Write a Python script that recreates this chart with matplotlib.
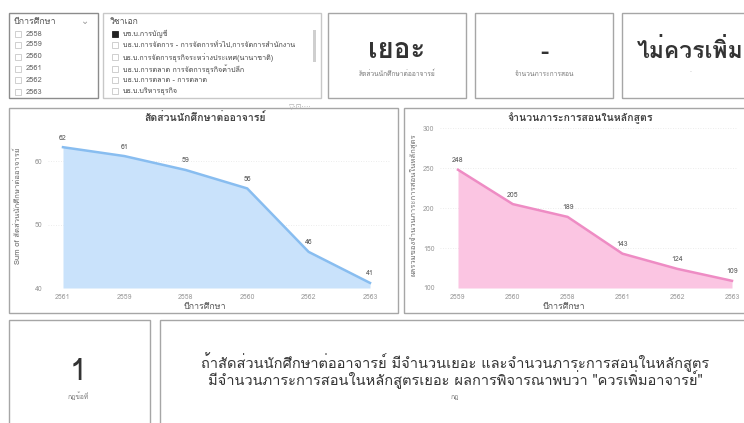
import matplotlib
matplotlib.use("Agg")
import matplotlib.pyplot as plt
from matplotlib import font_manager
from matplotlib.ft2font import FT2Font
from matplotlib.patches import Rectangle

# ---------------- data ----------------
years_slicer = ["2558", "2559", "2560", "2561", "2562", "2563"]
majors = ["บช.บ.การบัญชี",
          "บธ.บ.การจัดการ - การจัดการทั่วไป,การจัดการสำนักงาน",
          "บธ.บ.การจัดการธุรกิจระหว่างประเทศ(นานาชาติ)",
          "บธ.บ.การตลาด การจัดการธุรกิจค้าปลีก",
          "บธ.บ.การตลาด - การตลาด",
          "บธ.บ.บริหารธุรกิจ"]
ratio_years = ["2561", "2559", "2558", "2560", "2562", "2563"]
ratio_values = [62.2, 60.8, 58.6, 55.7, 45.7, 40.8]
ratio_labels = ["62", "61", "59", "56", "46", "41"]
load_years = ["2559", "2560", "2558", "2561", "2562", "2563"]
load_values = [248, 205, 189, 143, 124, 109]
ratio_yticks = [40, 50, 60]
load_yticks = [100, 150, 200, 250, 300]

# ---------------- font with Thai ----------------
thai_font = None
for f in font_manager.fontManager.ttflist:
    try:
        cm = FT2Font(f.fname).get_charmap()
        if 0x0E01 in cm and 0x0E2D in cm:
            thai_font = f.name
            break
    except Exception:
        pass
fams = ([thai_font] if thai_font else []) + ["DejaVu Sans"]
plt.rcParams['font.family'] = fams

W, H = 744, 423
fig = plt.figure(figsize=(W / 100, H / 100), dpi=100)
fig.patch.set_facecolor("white")


def fx(x):
    return x / W


def fy(y):
    return 1 - y / H


def box(x0, y0, x1, y1, ec="#a6a6a6", lw=1.0):
    fig.patches.append(Rectangle((fx(x0), fy(y1)), fx(x1) - fx(x0), fy(y0) - fy(y1),
                                 transform=fig.transFigure, fill=False, ec=ec, lw=lw))


def txt(x, y, s, size=6, color="#555555", ha="left", va="center", **kw):
    fig.text(fx(x), fy(y), s, fontsize=size, color=color, ha=ha, va=va, **kw)


# ---------------- slicer 1 ----------------
box(9, 13, 98, 98, ec="#8c8c8c")
txt(14, 22, "ปีการศึกษา", size=6.4, color="#555555")
txt(85, 21, "⌄", size=7, color="#999999", ha="center", family="DejaVu Sans")
ys = [34, 45, 57, 69, 80, 92]
for yy, lab in zip(ys, years_slicer):
    fig.patches.append(Rectangle((fx(15), fy(yy + 3)), fx(6), 6 / H, transform=fig.transFigure,
                                 fill=False, ec="#c8c8c8", lw=0.6))
    txt(26, yy, lab, size=5.4, color="#666666")

# ---------------- slicer 2 ----------------
box(103, 13, 321, 98, ec="#c8c8c8")
txt(110, 22, "วิชาเอก", size=6.2, color="#555555")
ys2 = [34, 45, 57, 69, 80, 91]
for i, (yy, lab) in enumerate(zip(ys2, majors)):
    fig.patches.append(Rectangle((fx(112), fy(yy + 3)), fx(6), 6 / H, transform=fig.transFigure,
                                 fill=(i == 0), fc="#222222", ec="#222222" if i == 0 else "#c8c8c8", lw=0.6))
    txt(123, yy, lab, size=5.2, color="#444444")
fig.patches.append(Rectangle((fx(313), fy(62)), fx(3), 32 / H, transform=fig.transFigure,
                             fill=True, fc="#cfcfcf", ec="none"))

# ---------------- cards ----------------
box(328, 13, 466, 98)
txt(397, 50, "เยอะ", size=20, color="#333333", ha="center", weight="bold")
txt(397, 74, "สัดส่วนนักศึกษาต่ออาจารย์", size=4.8, color="#777777", ha="center")
box(475, 13, 613, 98)
txt(544, 52, "-", size=18, color="#333333", ha="center", weight="bold")
txt(544, 74, "จำนวนภาระการสอน", size=4.8, color="#777777", ha="center")
box(622, 13, 760, 98)
txt(690, 50, "ไม่ควรเพิ่ม", size=16.5, color="#333333", ha="center", weight="bold")
txt(690, 70, ".", size=5, color="#aaaaaa", ha="center")

# ---------------- chart boxes ----------------
box(9, 108, 398, 313)
box(404, 108, 760, 313)
txt(300, 107, "▽·⊡·⋯", size=5, color="#aaaaaa", ha="center", family="DejaVu Sans")


def area_chart(L, R, T, B, x0px, x5px, ylim, cats, vals, labels, yticks,
               fill, line, title, tx, xlx, ylabel, ylx, yly):
    ax = fig.add_axes([fx(L), fy(B), fx(R) - fx(L), fy(T) - fy(B)])
    a = (x5px - x0px) / 5.0
    ax.set_xlim(-(x0px - L) / a, 5 + (R - x5px) / a)
    ax.set_ylim(*ylim)
    xs = list(range(len(cats)))
    ax.fill_between(xs, vals, ylim[0], color=fill, lw=0)
    ax.plot(xs, vals, color=line, lw=1.8)
    for x, v, l in zip(xs, vals, labels):
        ax.annotate(l, (x, v), xytext=(0, 4), textcoords="offset points",
                    ha="center", va="bottom", fontsize=5, color="#555555")
    ax.set_xticks(xs)
    ax.set_xticklabels(cats)
    ax.set_yticks(yticks)
    ax.tick_params(length=0, labelsize=5, labelcolor="#9a9a9a", pad=4)
    for s in ax.spines.values():
        s.set_visible(False)
    ax.yaxis.grid(True, color="#e6e6e6", lw=0.6, ls=(0, (1, 2)))
    ax.set_axisbelow(True)
    ax.set_facecolor("none")
    txt(tx, 118, title, size=7.6, color="#444444", ha="center", weight="bold")
    txt(xlx, 306, "ปีการศึกษา", size=6.4, color="#555555", ha="center")
    fig.text(fx(ylx), fy(yly), ylabel, fontsize=5.5, color="#666666", rotation=90,
             ha="center", va="center")
    return ax


area_chart(48, 390, 125, 288, 63, 370, (40, 65.7), ratio_years, ratio_values, ratio_labels,
           ratio_yticks, "#c9e2fb", "#88bdf0", "สัดส่วนนักศึกษาต่ออาจารย์", 205, 205,
           "Sum of สัดส่วนนักศึกษาต่ออาจารย์", 18, 206)
area_chart(440, 738, 125, 288, 458, 732, (100, 304), load_years, load_values,
           [str(v) for v in load_values], load_yticks, "#fbc5e2", "#ee8cc4",
           "จำนวนภาระการสอนในหลักสูตร", 580, 564, "ผลรวมของจำนวนภาระการสอนในหลักสูตร", 413, 205)

# ---------------- bottom cards ----------------
box(9, 320, 150, 440)
txt(78, 372, "1", size=22, color="#333333", ha="center")
txt(78, 397, "กฎข้อที่", size=4.8, color="#777777", ha="center")
box(160, 320, 760, 440)
txt(455, 362, "ถ้าสัดส่วนนักศึกษาต่ออาจารย์ มีจำนวนเยอะ และจำนวนภาระการสอนในหลักสูตร",
    size=10.5, color="#333333", ha="center")
txt(455, 380, "มีจำนวนภาระการสอนในหลักสูตรเยอะ ผลการพิจารณาพบว่า \"ควรเพิ่มอาจารย์\"",
    size=10.5, color="#333333", ha="center")
txt(455, 397, "กฎ", size=4.8, color="#777777", ha="center")

fig.savefig("out.png", dpi=100, facecolor="white")
